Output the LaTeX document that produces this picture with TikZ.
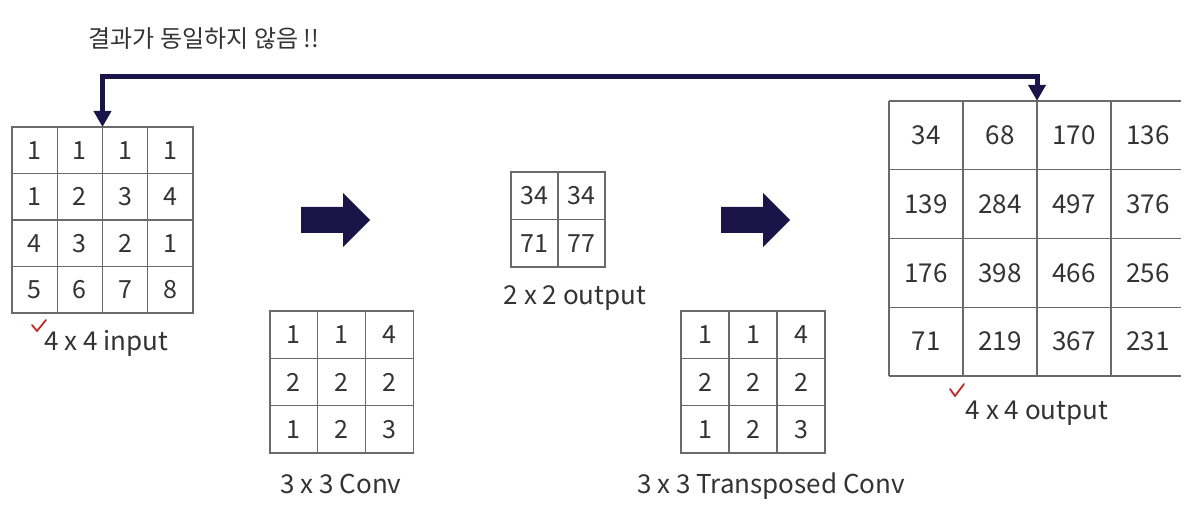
\documentclass[tikz,border=0pt]{standalone}
\usepackage{fontspec}
\setmainfont{Noto Sans CJK KR}
\usetikzlibrary{arrows.meta}
\definecolor{navy}{HTML}{1B1448}
\definecolor{gridgray}{HTML}{6A6A6A}
\definecolor{textgray}{HTML}{333333}
\definecolor{checkred}{HTML}{C62828}
\tikzset{
  cell/.style={draw=gridgray, line width=1.2pt, inner sep=0pt, outer sep=0pt, text=textgray, font=\fontsize{25}{25}\selectfont},
  bigcell/.style={inner sep=0pt, outer sep=0pt, text=textgray, font=\fontsize{26}{26}\selectfont},
  gridline/.style={draw=gridgray, line width=1.2pt},
  lbl/.style={text=textgray, font=\fontsize{26}{26}\selectfont, anchor=base, inner sep=0pt},
  toplbl/.style={text=textgray, font=\fontsize{24}{24}\selectfont, anchor=base, inner sep=0pt},
  bigarrow/.style={fill=navy, draw=none},
  conn/.style={draw=navy, line width=5pt, {Triangle[width=17pt,length=16pt]}-{Triangle[width=17pt,length=16pt]}},
  check/.style={draw=checkred, line width=1.8pt, line cap=round, line join=round}
}
\begin{document}
\begin{tikzpicture}[x=1pt,y=-1pt]
\useasboundingbox (0,0) rectangle (1191,510);
% input grid
\foreach \row [count=\r] in {{1,1,1,1},{1,2,3,4},{4,3,2,1},{5,6,7,8}} {
  \foreach \v [count=\c] in \row {
    \node[cell, minimum width=45.25pt, minimum height=46.5pt] (in-\r-\c) at ({12+45.25*(\c-0.5)}, {127+46.5*(\r-0.5)}) {\v};
  }
}
% conv kernel
\foreach \row [count=\r] in {{1,1,4},{2,2,2},{1,2,3}} {
  \foreach \v [count=\c] in \row {
    \node[cell, minimum width=47.7pt, minimum height=47.3pt] (k-\r-\c) at ({270+47.7*(\c-0.5)}, {311+47.3*(\r-0.5)}) {\v};
  }
}
% 2x2 output
\foreach \row [count=\r] in {{34,34},{71,77}} {
  \foreach \v [count=\c] in \row {
    \node[cell, minimum width=47pt, minimum height=47.5pt] (o-\r-\c) at ({511+47*(\c-0.5)}, {172+47.5*(\r-0.5)}) {\v};
  }
}
% transposed kernel
\foreach \row [count=\r] in {{1,1,4},{2,2,2},{1,2,3}} {
  \foreach \v [count=\c] in \row {
    \node[cell, minimum width=48pt, minimum height=47.3pt] (t-\r-\c) at ({681+48*(\c-0.5)}, {311+47.3*(\r-0.5)}) {\v};
  }
}
% 4x4 output (no right border)
\foreach \row [count=\r] in {{34,68,170,136},{139,284,497,376},{176,398,466,256},{71,219,367,231}} {
  \foreach \v [count=\c] in \row {
    \node[bigcell, minimum width=74pt, minimum height=69pt] (out-\r-\c) at ({889+74*(\c-0.5)}, {101+68.75*(\r-0.5)}) {\v};
  }
}
\foreach \y in {101,169.75,238.5,307.25,376} { \draw[gridline] (889,\y) -- (1181,\y); }
\foreach \x in {889,963,1037,1111} { \draw[gridline] (\x,101) -- (\x,376); }
% big arrows
\draw[bigarrow] (301,207) -- (343,207) -- (343,193) -- (370,220) -- (343,247) -- (343,233) -- (301,233) -- cycle;
\draw[bigarrow] (721,207) -- (763,207) -- (763,193) -- (790,220) -- (763,247) -- (763,233) -- (721,233) -- cycle;
% labels
\node[lbl] (lin) at (106,351) {4 x 4 input};
\node[lbl] (lk) at (341,493) {3 x 3 Conv};
\node[lbl] (lo) at (575,305) {2 x 2 output};
\node[lbl] (lt) at (771,493) {3 x 3 Transposed Conv};
\node[lbl] (lout) at (1037,419) {4 x 4 output};
\node[toplbl] (ltop) at (204,48) {결과가 동일하지 않음 !!};
% check marks
\draw[check] (32,325) -- (37,331) -- (46,320);
\draw[check] (950,389) -- (955,396) -- (964,384);
% connector
\coordinate (bendR) at (1037,77);
\draw[conn] (out-1-3.north west) -- (bendR) -| (in-1-3.north west);
\end{tikzpicture}
\end{document}
